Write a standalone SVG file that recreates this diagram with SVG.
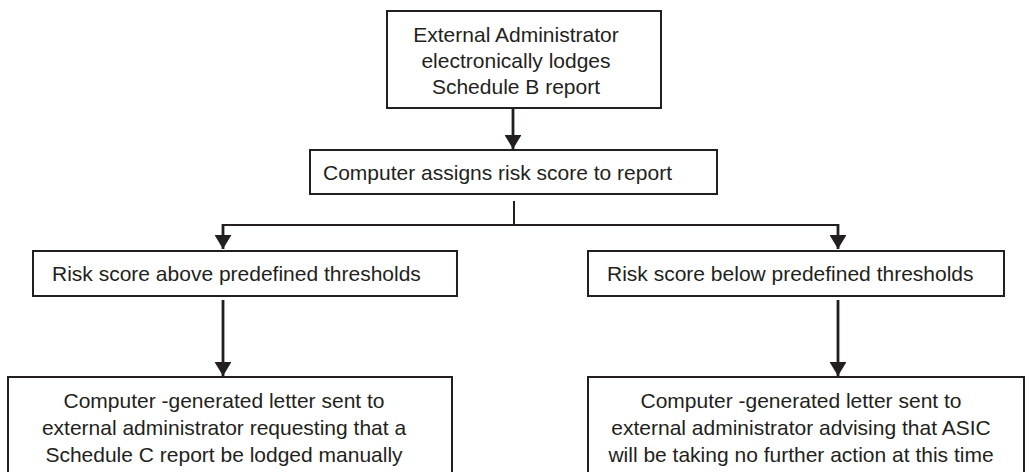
<svg xmlns="http://www.w3.org/2000/svg" width="1031" height="472" viewBox="0 0 1031 472">
<style>
.box{fill:#fff;stroke:#231f20;stroke-width:2}
.t{font-family:"Liberation Sans",Arial,sans-serif;font-size:21px;fill:#231f20}
.c{text-anchor:middle}
.ln{fill:none;stroke:#231f20;stroke-width:2.8}
.thin{fill:none;stroke:#231f20;stroke-width:2}
</style>
<defs>
<marker id="ah" markerWidth="6" markerHeight="6" refX="5" refY="3" orient="auto" markerUnits="strokeWidth">
<path d="M0,0 L5,3 L0,6 Z" fill="#231f20"/>
</marker>
</defs>
<rect width="1031" height="472" fill="#fff"/>
<g id="connectors">
<line class="ln" x1="513" y1="109" x2="513" y2="149" marker-end="url(#ah)"/>
<polyline class="thin" points="514,201 514,225 223,225"/>
<line class="thin" x1="514" y1="225" x2="838" y2="225"/>
<line class="ln" x1="223" y1="224" x2="223" y2="249" marker-end="url(#ah)"/>
<line class="ln" x1="838" y1="224" x2="838" y2="249" marker-end="url(#ah)"/>
<line class="ln" x1="223" y1="300" x2="223" y2="376" marker-end="url(#ah)"/>
<line class="ln" x1="838" y1="300" x2="838" y2="376" marker-end="url(#ah)"/>
</g>
<g id="n1">
<rect class="box" x="387" y="11" width="274" height="97"/>
<text class="t c" x="516" y="42">External Administrator</text>
<text class="t c" x="516" y="68">electronically lodges</text>
<text class="t c" x="516" y="94">Schedule B report</text>
</g>
<g id="n2">
<rect class="box" x="310" y="150" width="407" height="44"/>
<text class="t" x="323" y="180">Computer assigns risk score to report</text>
</g>
<g id="n3">
<rect class="box" x="33" y="251" width="424" height="45"/>
<text class="t" x="52" y="281">Risk score above predefined thresholds</text>
</g>
<g id="n4">
<rect class="box" x="588" y="251" width="416" height="45"/>
<text class="t" x="607" y="281">Risk score below predefined thresholds</text>
</g>
<g id="n5">
<rect class="box" x="8" y="377" width="444" height="110"/>
<text class="t c" x="224" y="408">Computer -generated letter sent to</text>
<text class="t c" x="224" y="435">external administrator requesting that a</text>
<text class="t c" x="224" y="462">Schedule C report be lodged manually</text>
</g>
<g id="n6">
<rect class="box" x="588" y="377" width="436" height="110"/>
<text class="t c" x="801" y="408">Computer -generated letter sent to</text>
<text class="t c" x="801" y="435">external administrator advising that ASIC</text>
<text class="t c" x="801" y="462">will be taking no further action at this time</text>
</g>
</svg>
